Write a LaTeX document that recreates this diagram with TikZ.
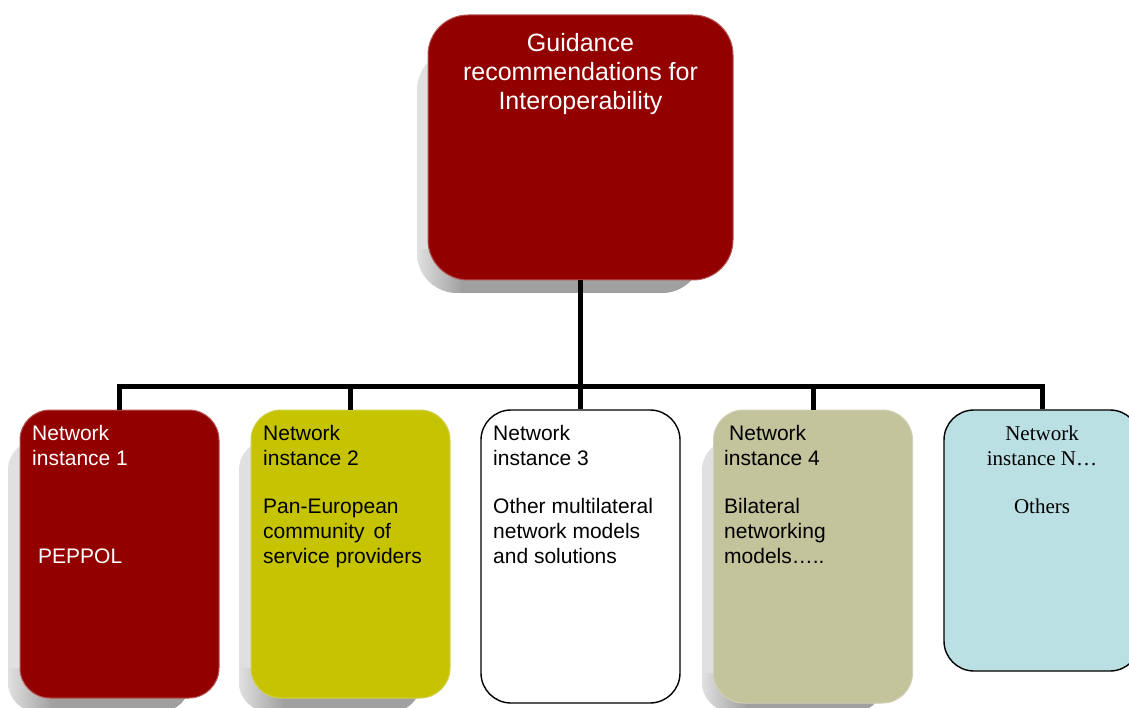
\documentclass[tikz,border=0pt]{standalone}
\usepackage{fontspec}
\setmainfont{Liberation Sans}
\newfontfamily\serifrm{Liberation Serif}
\definecolor{darkred}{HTML}{920000}
\definecolor{redborder}{HTML}{B65656}
\definecolor{yellowgreen}{HTML}{C6C300}
\definecolor{yellowborder}{HTML}{D2CF4A}
\definecolor{olivebox}{HTML}{C3C39C}
\definecolor{oliveborder}{HTML}{D0D0B4}
\definecolor{lightcyan}{HTML}{BAE0E3}
\definecolor{shlight}{HTML}{E0E0E0}
\definecolor{shdark}{HTML}{A0A0A0}
% #1,#2 = top-left of shadow, #3,#4 = bottom-right, #5 = box bottom y, #6 = corner radius
\newcommand\myshadow[6]{%
  \begin{scope}
    \clip[rounded corners=#6] (#1,#2) rectangle (#3,#4);
    \fill[shlight] (#1,#2) rectangle (#3,#4);
    \shade[left color=shlight, right color=shdark] (#1,#5-30) rectangle (#1+45,#4);
    \fill[shdark] (#1+45,#5-5) rectangle (#3,#4);
  \end{scope}}
\tikzset{
  box/.style={rectangle, inner sep=0pt, line width=1pt},
  lbox/.style={box, rounded corners=30pt, minimum width=199pt},
  conn/.style={line width=5pt},
  wtxt/.style={font=\fontsize{21}{25}\selectfont, text=white, inner sep=0pt, anchor=base west},
  btxt/.style={font=\fontsize{21}{25}\selectfont, text=black, inner sep=0pt, anchor=base west},
  ttxt/.style={font=\fontsize{25}{29}\selectfont, text=white, inner sep=0pt, anchor=base},
  stxt/.style={font=\serifrm\fontsize{21}{25}\selectfont, text=black, inner sep=0pt, anchor=base}
}
\begin{document}
\begin{tikzpicture}[x=1pt,y=-1pt]
\useasboundingbox (0,0) rectangle (1129,708);
% shadows
\myshadow{417}{50}{702}{293}{280}{40pt}
\myshadow{8}{440}{190}{712}{698}{30pt}
\myshadow{239}{440}{421}{712}{698}{30pt}
\myshadow{702}{440}{884}{712}{703}{30pt}
% connectors
\coordinate (bus) at (580.5,386);
% boxes
\node[box, rounded corners=40pt, minimum width=305pt, minimum height=265pt, fill=darkred, draw=redborder] (top) at (580.5,147.5) {};
\node[lbox, minimum height=288pt, fill=darkred, draw=redborder] (b1) at (119.5,554) {};
\node[lbox, minimum height=288pt, fill=yellowgreen, draw=yellowborder] (b2) at (350.5,554) {};
\node[lbox, minimum height=293pt, fill=white, draw=black, line width=1.4pt] (b3) at (580.5,556.5) {};
\node[lbox, minimum height=293pt, fill=olivebox, draw=oliveborder] (b4) at (813,556.5) {};
\node[lbox, minimum width=196pt, minimum height=261pt, fill=lightcyan, draw=black, line width=1.4pt] (b5) at (1042,540.5) {};
\draw[conn] (top.south) -- (bus);
\draw[conn] (b1.north) |- (bus) -| (b5.north);
\draw[conn] (b2.north) -- (b2.north |- bus);
\draw[conn] (b3.north) -- (b3.north |- bus);
\draw[conn] (b4.north) -- (b4.north |- bus);
% title
\node[ttxt] (t1) at (580.5,52) {Guidance};
\node[ttxt] (t2) at (580.5,81) {recommendations for};
\node[ttxt] (t3) at (580.5,110) {Interoperability};
% box 1
\node[wtxt] (a1) at (32,440) {Network};
\node[wtxt] (a2) at (32,465) {instance 1};
\node[wtxt] (a3) at (38,563) {PEPPOL};
% box 2
\node[btxt] (c1) at (263,440) {Network};
\node[btxt] (c2) at (263,465) {instance 2};
\node[btxt] (c3) at (263,513) {Pan-European};
\node[btxt] (c4) at (263,538) {community\hspace{3pt} of};
\node[btxt] (c5) at (263,563) {service providers};
% box 3
\node[btxt] (d1) at (493,440) {Network};
\node[btxt] (d2) at (493,465) {instance 3};
\node[btxt] (d3) at (493,513) {Other multilateral};
\node[btxt] (d4) at (493,538) {network models};
\node[btxt] (d5) at (493,563) {and solutions};
% box 4
\node[btxt] (e1) at (729,440) {Network};
\node[btxt] (e2) at (724,465) {instance 4};
\node[btxt] (e3) at (724,513) {Bilateral};
\node[btxt] (e4) at (724,538) {networking};
\node[btxt] (e5) at (724,563) {models…..};
% box N
\node[stxt] (f1) at (1042,440) {Network};
\node[stxt] (f2) at (1042,465) {instance N…};
\node[stxt] (f3) at (1042,513) {Others};
\end{tikzpicture}
\end{document}
